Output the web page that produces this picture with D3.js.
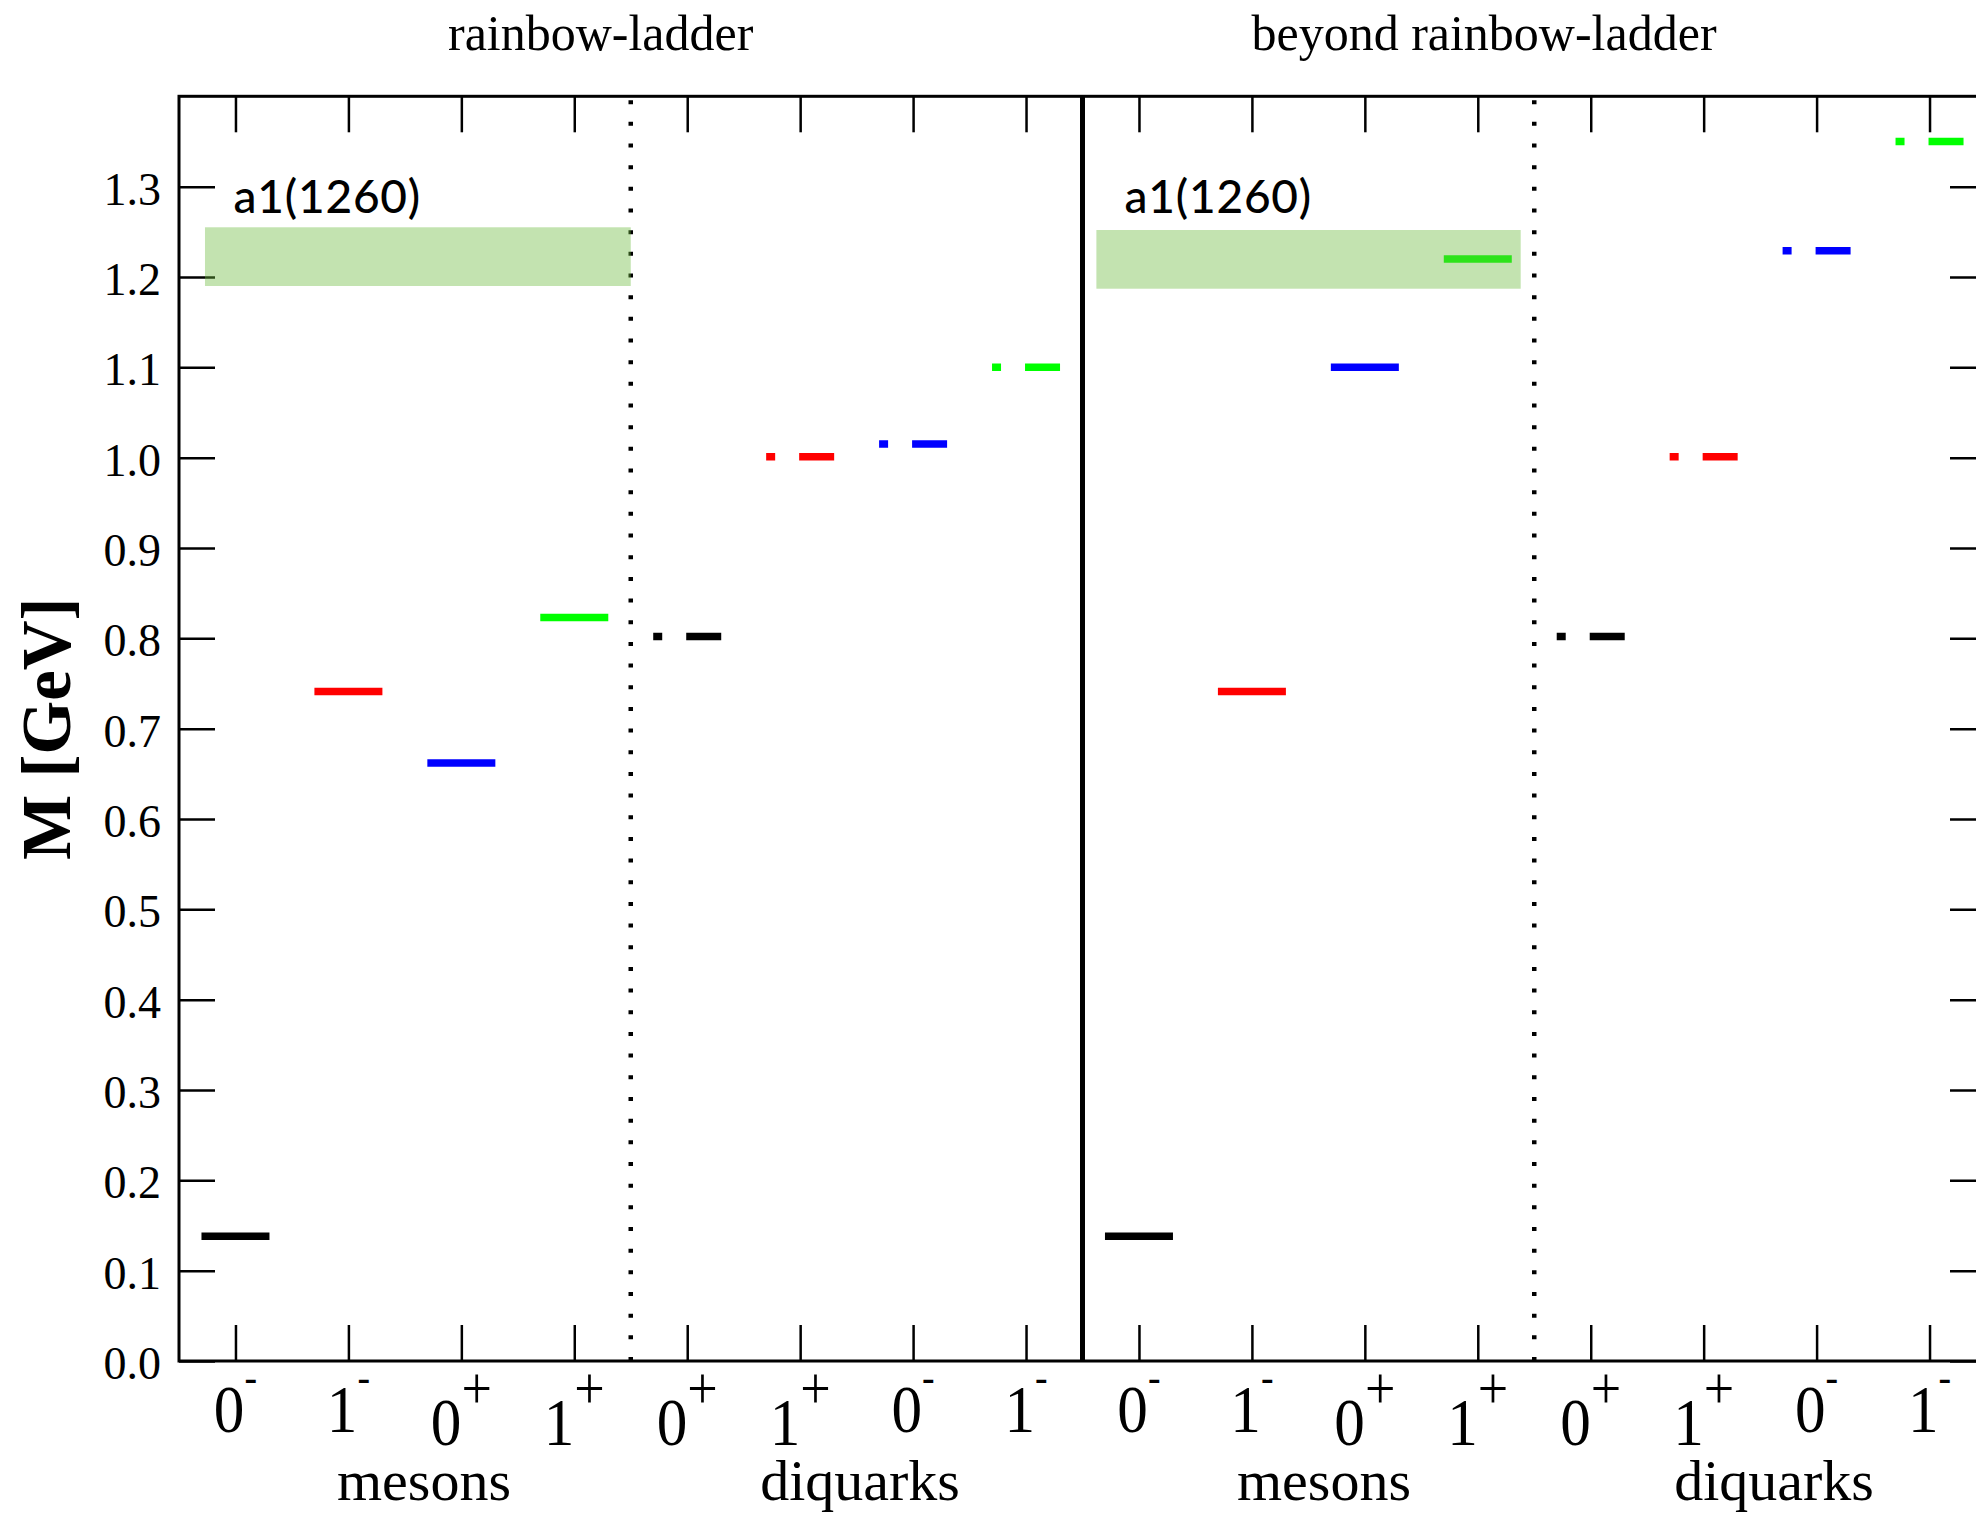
<!DOCTYPE html>
<html>
<head>
<meta charset="utf-8">
<script src="https://cdn.jsdelivr.net/npm/d3@7"></script>
<style>
  html, body { margin: 0; padding: 0; background: #fff; }
  svg { display: block; }
</style>
</head>
<body>
<svg id="chart" width="1976" height="1513"></svg>
<script>
// ---------------- data ----------------
const panelTitles = ["rainbow-ladder", "beyond rainbow-ladder"];
const groupNames = ["mesons", "diquarks", "mesons", "diquarks"];
const tickLabels = ["0-", "1-", "0+", "1+", "0+", "1+", "0-", "1-",
                    "0-", "1-", "0+", "1+", "0+", "1+", "0-", "1-"];
const seriesColors = ["#000000", "#ff0000", "#0000ff", "#00ff00"];
const rlMesons    = [0.138, 0.741, 0.662, 0.823];
const rlDiquarks  = [0.802, 1.001, 1.015, 1.100];
const brlMesons   = [0.138, 0.741, 1.100, 1.220];
const brlDiquarks = [0.802, 1.001, 1.229, 1.350];
const bandLabel = "a1(1260)";
const bandLow  = [1.190, 1.187];
const bandHigh = [1.255, 1.252];
const yTicks = [0.0, 0.1, 0.2, 0.3, 0.4, 0.5, 0.6, 0.7, 0.8, 0.9, 1.0, 1.1, 1.2, 1.3];

// ---------------- layout ----------------
const W = 1976, H = 1513;
const svg = d3.select("#chart");
const x = d3.scaleLinear().domain([-0.5, 15.5]).range([179, 1986]);
const y = d3.scaleLinear().domain([0, 1.4]).range([1361, 96.3]);
const serif = "'Liberation Serif', 'Times New Roman', serif";
const tickLen = 36;

// marks: (position index, value, color, type)
const marks = [];
[[rlMesons, 0, "meson"], [rlDiquarks, 4, "diquark"],
 [brlMesons, 8, "meson"], [brlDiquarks, 12, "diquark"]].forEach(([arr, off, type]) => {
  arr.forEach((v, i) => marks.push({pos: off + i, value: v, color: seriesColors[i], type}));
});

const halfBar = 34;
svg.append("g").selectAll("line.mark").data(marks).join("line")
  .attr("class", "mark")
  .attr("x1", d => x(d.pos) - halfBar)
  .attr("x2", d => x(d.pos) + halfBar)
  .attr("y1", d => y(d.value))
  .attr("y2", d => y(d.value))
  .attr("stroke", d => d.color)
  .attr("stroke-width", 7.5)
  .attr("stroke-dasharray", d => d.type === "diquark" ? "9,24,35" : null);

// axes
const gAx = svg.append("g").attr("class", "axes");
const styleAxis = g => {
  g.select(".domain").remove();
  g.selectAll(".tick line").attr("stroke", "#000").attr("stroke-width", 2.5);
};
gAx.append("g").attr("transform", `translate(${x(-0.5)},0)`)
  .call(d3.axisLeft(y).tickValues(yTicks).tickSize(-tickLen).tickSizeOuter(0)
        .tickPadding(18).tickFormat(d3.format(".1f")))
  .call(styleAxis)
  .call(g => g.selectAll(".tick text")
      .attr("font-family", serif).attr("font-size", 46).attr("fill", "#000")
      .attr("dy", "0.38em"));
gAx.append("g").attr("transform", `translate(${x(15.5)},0)`)
  .call(d3.axisRight(y).tickValues(yTicks).tickSize(-tickLen).tickSizeOuter(0).tickFormat(""))
  .call(styleAxis);
gAx.append("g").attr("transform", `translate(0,${y(1.4)})`)
  .call(d3.axisTop(x).tickValues(d3.range(16)).tickSize(-tickLen).tickSizeOuter(0).tickFormat(""))
  .call(styleAxis);
gAx.append("g").attr("transform", `translate(0,${y(0)})`)
  .call(d3.axisBottom(x).tickValues(d3.range(16)).tickSize(-tickLen).tickSizeOuter(0).tickFormat(""))
  .call(styleAxis);

// frame
svg.append("rect")
  .attr("x", x(-0.5)).attr("y", y(1.4))
  .attr("width", x(15.5) - x(-0.5)).attr("height", y(0) - y(1.4))
  .attr("fill", "none").attr("stroke", "#000").attr("stroke-width", 3);

// dividers
[3.5, 11.5].forEach(p => {
  svg.append("line")
    .attr("x1", x(p)).attr("x2", x(p))
    .attr("y1", y(0)).attr("y2", y(1.4))
    .attr("stroke", "#000").attr("stroke-width", 4.5)
    .attr("stroke-dasharray", "4,17.67");
});
svg.append("line")
  .attr("x1", x(7.5)).attr("x2", x(7.5))
  .attr("y1", y(0)).attr("y2", y(1.4))
  .attr("stroke", "#000").attr("stroke-width", 5);

// a1(1260) bands (semi-transparent, drawn on top)
const bandX = [[-0.27, 3.5], [7.623, 11.38]];
bandLow.forEach((lo, k) => {
  svg.append("rect")
    .attr("x", x(bandX[k][0]))
    .attr("width", x(bandX[k][1]) - x(bandX[k][0]))
    .attr("y", y(bandHigh[k]))
    .attr("height", y(lo) - y(bandHigh[k]))
    .attr("fill", "#6eba40").attr("fill-opacity", 0.41);
});
const bandLabelX = [233.5, 1124.5];
bandLabelX.forEach(px => {
  svg.append("text")
    .attr("x", px).attr("y", 213)
    .attr("font-family", "Lato, 'Open Sans', sans-serif")
    .attr("font-size", 46).attr("font-weight", 500)
    .attr("letter-spacing", 0.8)
    .attr("fill", "#000")
    .text(bandLabel);
});

// category labels with superscript parity (slightly condensed serif)
tickLabels.forEach((lab, i) => {
  const digit = lab[0], sign = lab[1];
  const plus = sign === "+";
  const by = plus ? 1445 : 1432;
  const t = svg.append("text")
    .attr("transform", `translate(${x(i)},${by}) scale(0.9,1)`)
    .attr("text-anchor", "middle")
    .attr("font-family", serif)
    .attr("fill", "#000");
  t.append("tspan").attr("font-size", 68).text(digit);
  t.append("tspan").attr("font-size", plus ? 60 : 42).attr("dy", plus ? -37 : -41).text(sign);
});

// group labels
const groupX = [424, 860, 1324, 1774];
groupNames.forEach((g, i) => {
  svg.append("text")
    .attr("x", groupX[i]).attr("y", 1500)
    .attr("text-anchor", "middle")
    .attr("font-family", serif).attr("font-size", 58)
    .attr("fill", "#000").text(g);
});

// panel titles
const titleX = [600.7, 1484];
panelTitles.forEach((t, i) => {
  svg.append("text")
    .attr("x", titleX[i]).attr("y", 50)
    .attr("text-anchor", "middle")
    .attr("font-family", serif).attr("font-size", 50)
    .attr("fill", "#000").text(t);
});

// y-axis title
svg.append("text")
  .attr("transform", `translate(70,${y(0.7)}) rotate(-90)`)
  .attr("text-anchor", "middle")
  .attr("font-family", serif).attr("font-size", 69).attr("font-weight", "bold")
  .attr("fill", "#000").text("M [GeV]");
</script>
</body>
</html>
